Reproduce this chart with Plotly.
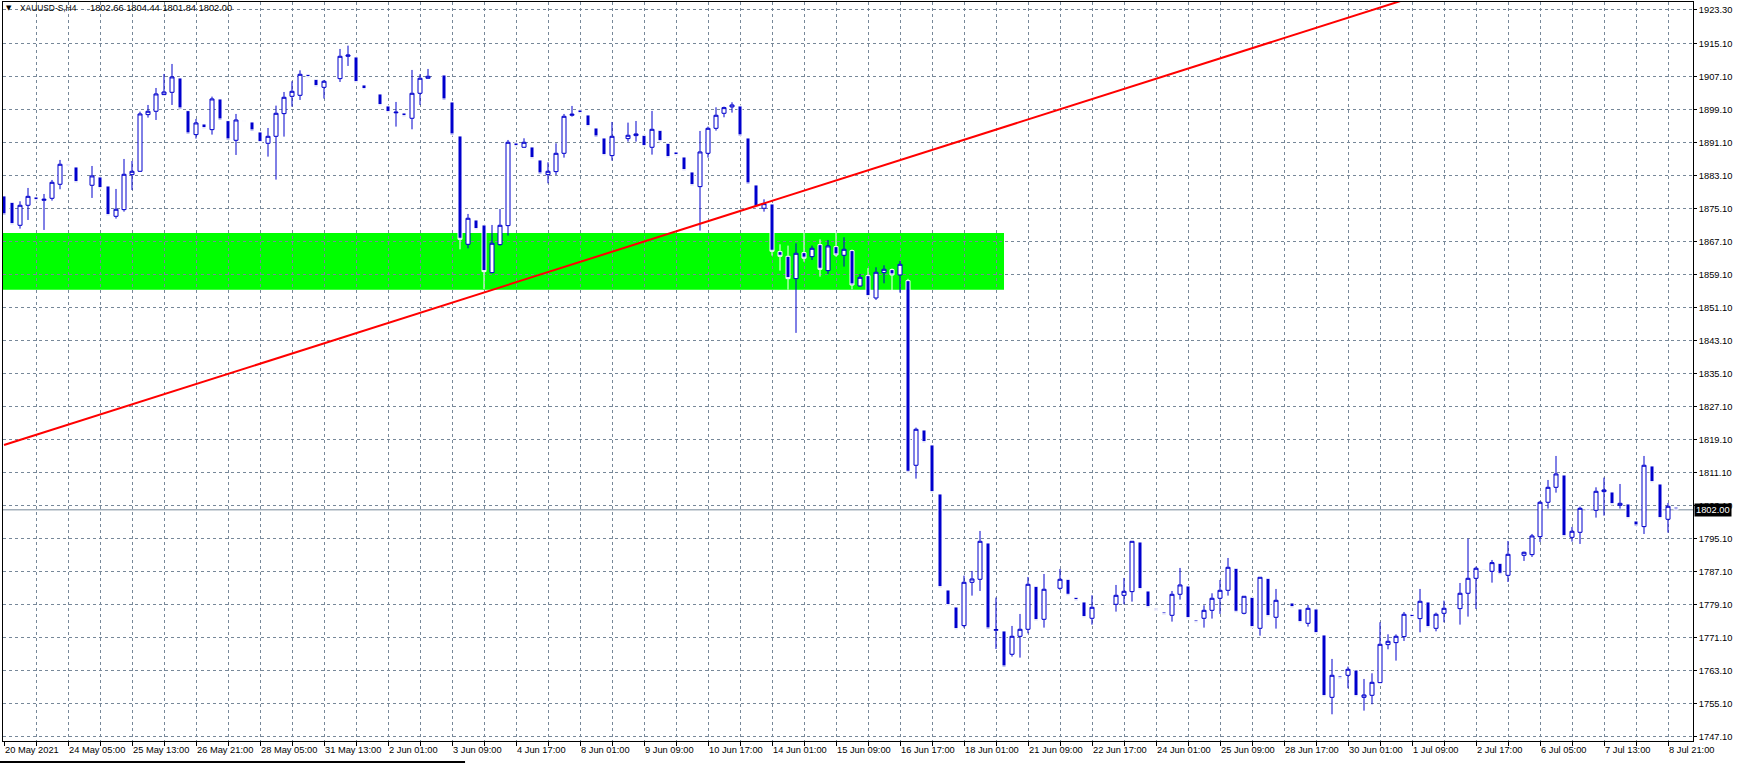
import plotly.graph_objects as go

# ---------------- data (XAUUSD-S, H4) ----------------
opens = [1878.1, 1876.55, 1870.98, 1875.83, 1877.85, 1877.04, 1877.52, 1880.92, 1885.77, 1885.12,
         1883.15, 1880.68, 1882.7, 1880.51, 1873.16, 1874.78, 1883.26, 1884.07, 1897.81, 1898.62,
         1902.66, 1903.22, 1906.7, 1898.78, 1892.96, 1895.54, 1894.17, 1901.61, 1896.35, 1891.58,
         1896.35, 1896.03, 1893.61, 1890.86, 1892.55, 1898.05, 1902.25, 1902.49, 1907.58, 1906.37,
         1904.43, 1906.02, 1906.53, 1911.95, 1911.79, 1905.0, 1903.3, 1902.82, 1899.91, 1898.25,
         1898.21, 1896.92, 1902.98, 1906.62, 1907.12, 1907.42, 1900.88, 1892.64, 1866.37, 1872.27,
         1871.06, 1859.5, 1866.29, 1870.9, 1890.94, 1889.89, 1889.97, 1886.82, 1883.26, 1883.99,
         1888.43, 1897.65, 1898.94, 1897.73, 1894.57, 1892.15, 1887.87, 1892.4, 1891.99, 1892.72,
         1892.8, 1889.89, 1894.01, 1890.86, 1888.76, 1887.54, 1883.91, 1880.35, 1888.43, 1894.49,
         1898.13, 1899.67, 1899.91, 1892.15, 1880.76, 1875.1, 1876.15, 1864.6, 1863.46, 1858.05,
         1864.35, 1863.38, 1866.29, 1859.99, 1865.81, 1863.71, 1864.84, 1856.27, 1858.78, 1853.36,
         1859.5, 1860.23, 1858.94, 1857.56, 1812.8, 1821.36, 1817.73, 1805.85, 1782.57, 1778.45,
         1773.93, 1784.43, 1785.16, 1793.97, 1772.8, 1772.64, 1766.98, 1771.34, 1773.04, 1783.46,
         1775.46, 1783.02, 1782.98, 1785.16, 1780.8, 1779.67, 1775.71, 1778.42, 1778.92, 1779.1,
         1781.28, 1782.17, 1794.21, 1782.33, 1778.13, 1777.24, 1776.43, 1781.52, 1783.54, 1775.3,
         1775.71, 1777.64, 1780.56, 1782.49, 1787.83, 1776.92, 1780.8, 1773.28, 1785.4, 1775.95,
         1779.85, 1779.42, 1777.97, 1774.49, 1777.97, 1771.67, 1756.55, 1761.73, 1761.89, 1763.18,
         1756.55, 1757.04, 1760.11, 1769.32, 1769.81, 1771.26, 1776.68, 1775.63, 1779.67, 1773.28,
         1776.92, 1778.42, 1778.05, 1781.77, 1785.4, 1787.6, 1787.1, 1789.04, 1786.13, 1791.02,
         1790.98, 1791.14, 1795.5, 1803.83, 1807.46, 1810.45, 1795.34, 1796.55, 1802.21, 1801.89,
         1806.41, 1806.33, 1803.1, 1803.42, 1799.3, 1797.93, 1812.64, 1808.27, 1799.71, 1802.66]

highs = [1878.6, 1876.8, 1876.8, 1880.03, 1878.1, 1878.57, 1881.97, 1886.82, 1886.0, 1885.4,
         1883.3, 1885.36, 1883.0, 1880.8, 1879.79, 1887.06, 1886.57, 1898.53, 1900.15, 1904.27,
         1907.67, 1910.09, 1907.0, 1899.0, 1896.76, 1895.8, 1902.17, 1901.9, 1896.6, 1897.97,
         1896.5, 1896.3, 1893.9, 1894.57, 1899.99, 1903.3, 1905.89, 1908.55, 1907.8, 1906.6,
         1906.21, 1906.3, 1913.73, 1914.53, 1912.1, 1905.3, 1903.5, 1903.1, 1900.2, 1900.88,
         1898.5, 1908.64, 1907.58, 1908.88, 1907.3, 1907.7, 1901.2, 1892.9, 1873.73, 1872.5,
         1871.3, 1871.06, 1874.94, 1891.67, 1891.2, 1892.07, 1890.2, 1887.1, 1886.25, 1890.86,
         1897.97, 1899.91, 1899.2, 1898.0, 1894.8, 1892.4, 1896.03, 1892.6, 1895.87, 1896.27,
         1893.1, 1898.7, 1894.3, 1891.1, 1889.0, 1887.8, 1884.2, 1893.85, 1894.9, 1899.58,
         1899.75, 1900.8, 1900.2, 1892.4, 1881.0, 1877.28, 1876.4, 1866.37, 1866.05, 1866.62,
         1869.5, 1866.05, 1867.58, 1867.42, 1869.5, 1868.07, 1865.1, 1859.18, 1860.6, 1860.8,
         1861.28, 1860.5, 1862.3, 1858.0, 1821.93, 1821.6, 1818.0, 1806.1, 1782.8, 1778.7,
         1786.05, 1787.18, 1796.88, 1794.2, 1780.72, 1772.9, 1773.85, 1776.76, 1785.73, 1783.7,
         1786.45, 1783.3, 1787.67, 1785.4, 1781.0, 1779.9, 1781.28, 1778.6, 1779.1, 1783.79,
         1785.48, 1794.45, 1794.4, 1782.6, 1778.4, 1777.5, 1782.33, 1787.91, 1783.8, 1775.5,
         1778.86, 1781.77, 1785.0, 1790.33, 1788.1, 1781.1, 1781.0, 1785.7, 1785.6, 1782.82,
         1780.0, 1779.6, 1778.2, 1778.94, 1778.2, 1771.9, 1765.85, 1762.0, 1763.99, 1763.4,
         1761.0, 1762.37, 1774.74, 1771.83, 1771.8, 1777.24, 1776.9, 1782.82, 1779.9, 1777.08,
         1779.99, 1778.6, 1784.27, 1795.02, 1788.23, 1787.8, 1789.85, 1789.3, 1794.45, 1791.2,
         1791.87, 1796.15, 1804.15, 1809.24, 1815.06, 1810.7, 1797.85, 1802.78, 1802.5, 1807.46,
         1809.81, 1806.6, 1808.27, 1803.7, 1799.6, 1815.06, 1812.9, 1808.5, 1803.67, 1804.44]

lows = [1873.1, 1870.9, 1870.17, 1872.27, 1876.7, 1869.85, 1876.96, 1879.71, 1885.1, 1881.0,
        1882.9, 1877.61, 1879.6, 1873.0, 1872.59, 1874.29, 1879.54, 1883.95, 1897.08, 1896.51,
        1902.6, 1900.15, 1898.9, 1892.8, 1891.99, 1894.1, 1892.96, 1896.2, 1891.4, 1888.03,
        1896.0, 1893.6, 1890.8, 1887.63, 1882.05, 1892.47, 1899.75, 1901.36, 1906.5, 1904.3,
        1901.69, 1905.8, 1905.73, 1909.61, 1905.3, 1903.6, 1903.0, 1899.7, 1898.0, 1894.9,
        1897.0, 1894.25, 1900.15, 1906.55, 1906.9, 1901.1, 1892.6, 1865.16, 1865.4, 1869.7,
        1855.54, 1859.34, 1866.05, 1868.47, 1889.8, 1889.8, 1886.9, 1883.2, 1881.16, 1883.18,
        1887.38, 1897.32, 1897.8, 1894.6, 1892.1, 1887.6, 1886.66, 1892.0, 1891.26, 1891.26,
        1889.8, 1888.11, 1891.0, 1887.1, 1887.6, 1884.0, 1880.3, 1869.69, 1887.38, 1893.93,
        1897.16, 1898.29, 1892.4, 1880.7, 1875.1, 1874.29, 1863.63, 1859.99, 1855.38, 1844.9,
        1862.17, 1862.57, 1858.53, 1859.18, 1863.38, 1860.96, 1855.46, 1856.11, 1853.4, 1852.88,
        1856.92, 1855.3, 1854.66, 1810.8, 1809.56, 1818.0, 1805.9, 1782.8, 1778.5, 1772.7,
        1773.44, 1781.2, 1782.33, 1772.8, 1768.27, 1763.6, 1766.41, 1766.17, 1772.07, 1774.9,
        1773.44, 1782.8, 1782.57, 1781.0, 1779.7, 1775.6, 1774.17, 1778.2, 1778.7, 1777.32,
        1779.1, 1779.75, 1782.4, 1778.0, 1777.3, 1776.3, 1774.9, 1780.23, 1775.4, 1774.4,
        1773.44, 1775.63, 1776.76, 1781.2, 1776.9, 1776.67, 1773.2, 1771.5, 1775.9, 1773.2,
        1779.6, 1778.0, 1774.4, 1773.69, 1771.7, 1756.5, 1752.43, 1760.8, 1758.74, 1756.5,
        1753.32, 1754.86, 1760.0, 1768.19, 1765.44, 1770.21, 1775.6, 1772.31, 1773.2, 1772.55,
        1774.74, 1778.2, 1774.17, 1776.11, 1777.97, 1787.2, 1784.35, 1786.1, 1784.51, 1790.8,
        1789.61, 1790.57, 1794.21, 1802.29, 1806.17, 1795.2, 1794.29, 1793.73, 1801.5, 1800.11,
        1800.6, 1803.0, 1802.29, 1799.6, 1797.8, 1796.15, 1808.3, 1799.6, 1796.47, 1801.84]

closes = [1873.5, 1871.14, 1875.83, 1878.0, 1876.96, 1877.28, 1881.4, 1885.77, 1885.36, 1881.32,
          1883.1, 1882.94, 1879.87, 1873.32, 1874.86, 1883.34, 1884.07, 1897.97, 1898.62, 1902.82,
          1903.3, 1906.94, 1899.18, 1893.12, 1895.79, 1894.41, 1901.61, 1896.51, 1891.67, 1896.51,
          1896.2, 1893.85, 1891.02, 1892.55, 1898.13, 1902.01, 1903.46, 1907.58, 1906.78, 1904.59,
          1905.89, 1906.0, 1911.95, 1912.27, 1905.56, 1903.87, 1903.15, 1899.99, 1898.29, 1898.4,
          1897.32, 1902.98, 1906.62, 1907.1, 1907.1, 1901.36, 1892.88, 1867.58, 1872.68, 1869.93,
          1859.75, 1866.62, 1870.98, 1891.1, 1890.05, 1891.1, 1887.14, 1883.42, 1884.07, 1888.43,
          1897.4, 1897.89, 1898.05, 1894.9, 1892.39, 1887.87, 1892.55, 1892.2, 1892.8, 1893.12,
          1890.05, 1894.25, 1891.26, 1887.38, 1887.87, 1884.23, 1880.59, 1888.76, 1894.49, 1897.65,
          1899.5, 1900.15, 1892.64, 1881.0, 1875.34, 1876.23, 1864.68, 1863.46, 1858.05, 1864.19,
          1863.0, 1865.4, 1860.31, 1865.97, 1863.79, 1865.16, 1856.51, 1858.37, 1853.69, 1859.58,
          1860.31, 1858.94, 1861.52, 1811.1, 1821.52, 1818.29, 1806.17, 1783.14, 1778.78, 1772.96,
          1784.43, 1785.24, 1794.37, 1773.12, 1772.96, 1763.91, 1771.34, 1773.04, 1783.95, 1775.14,
          1782.74, 1783.0, 1785.16, 1781.28, 1779.99, 1775.87, 1778.37, 1778.4, 1778.9, 1781.28,
          1782.25, 1794.37, 1782.66, 1778.29, 1777.56, 1776.59, 1781.52, 1783.79, 1775.63, 1774.66,
          1777.64, 1780.56, 1782.49, 1788.07, 1777.16, 1781.04, 1773.44, 1785.65, 1776.11, 1780.07,
          1779.75, 1778.29, 1774.66, 1778.13, 1771.99, 1756.72, 1761.89, 1761.08, 1763.34, 1756.72,
          1757.12, 1760.19, 1769.4, 1770.13, 1771.34, 1776.68, 1775.87, 1779.83, 1773.44, 1776.68,
          1778.13, 1778.4, 1781.77, 1785.4, 1787.83, 1787.4, 1789.2, 1786.37, 1791.22, 1791.0,
          1791.71, 1795.67, 1803.83, 1807.46, 1810.7, 1795.5, 1796.8, 1802.37, 1801.81, 1806.49,
          1806.82, 1803.26, 1803.58, 1799.87, 1798.09, 1812.8, 1808.6, 1799.87, 1802.86, 1802.0]

time_labels = ["20 May 2021", "24 May 05:00", "25 May 13:00", "26 May 21:00", "28 May 05:00",
               "31 May 13:00", "2 Jun 01:00", "3 Jun 09:00", "4 Jun 17:00", "8 Jun 01:00",
               "9 Jun 09:00", "10 Jun 17:00", "14 Jun 01:00", "15 Jun 09:00", "16 Jun 17:00",
               "18 Jun 01:00", "21 Jun 09:00", "22 Jun 17:00", "24 Jun 01:00", "25 Jun 09:00",
               "28 Jun 17:00", "30 Jun 01:00", "1 Jul 09:00", "2 Jul 17:00", "6 Jul 05:00",
               "7 Jul 13:00", "8 Jul 21:00"]
bars_per_label = 8

price_ticks = [1923.3, 1915.1, 1907.1, 1899.1, 1891.1, 1883.1, 1875.1, 1867.1, 1859.1, 1851.1,
               1843.1, 1835.1, 1827.1, 1819.1, 1811.1, 1803.1, 1795.1, 1787.1, 1779.1, 1771.1,
               1763.1, 1755.1, 1747.1]

zone_bars = [-0.2, 125.0]          # support rectangle
zone_prices = [1855.38, 1869.12]
trend_bars = [0, 200]              # red trend line
trend_prices = [1817.7, 1941.03]
bid_price = 1802.00
symbol_text = "XAUUSD-S,H4"
ohlc_text = "1802.66 1804.44 1801.84 1802.00"

# ---------------- styling ----------------
BLUE = "#0000CD"
GRID = "#778899"
FONT = "Liberation Sans"
FS = 9.3

n = min(len(opens), len(highs), len(lows), len(closes))
xs = list(range(n))

fig = go.Figure()
fig.add_trace(go.Candlestick(
    x=xs, open=opens[:n], high=highs[:n], low=lows[:n], close=closes[:n],
    increasing=dict(line=dict(color=BLUE, width=1), fillcolor="white"),
    decreasing=dict(line=dict(color="white", width=1), fillcolor=BLUE),
    whiskerwidth=0, hoverinfo="skip", showlegend=False))

x_range = [-0.125, 211.125]
y_range = [1745.96, 1925.11]

fig.update_layout(
    width=1741, height=763,
    margin=dict(l=3, r=48, t=2, b=22),
    paper_bgcolor="white", plot_bgcolor="white",
    showlegend=False, boxgap=0.5, boxgroupgap=0,
    font=dict(family=FONT, size=FS, color="black"),
    xaxis=dict(range=x_range, rangeslider=dict(visible=False),
               tickmode="array", tickvals=list(range(0, 212, 4)), showticklabels=False,
               ticks="outside", ticklen=4, tickcolor="black", tickwidth=1,
               showgrid=True, gridcolor=GRID, gridwidth=1, griddash="3px,3px",
               showline=True, linecolor="black", linewidth=1, mirror=True,
               zeroline=False, fixedrange=True),
    yaxis=dict(range=y_range, side="right",
               tickmode="array", tickvals=price_ticks,
               ticktext=[f"{v:.2f}" for v in price_ticks],
               ticks="outside", ticklen=3, tickcolor="black", tickwidth=1,
               tickfont=dict(family=FONT, size=FS, color="black"),
               showgrid=True, gridcolor=GRID, gridwidth=1, griddash="3px,3px",
               showline=True, linecolor="black", linewidth=1, mirror=True,
               zeroline=False, fixedrange=True),
)

shapes = [
    dict(type="rect", xref="x", yref="y", x0=zone_bars[0], x1=zone_bars[1],
         y0=zone_prices[0], y1=zone_prices[1], fillcolor="#00FF00",
         line=dict(width=0), layer="below"),
    dict(type="line", xref="paper", yref="y", x0=0, x1=1, y0=bid_price, y1=bid_price,
         line=dict(color=GRID, width=1), layer="below"),
    dict(type="line", xref="x", yref="y", x0=trend_bars[0], x1=trend_bars[1],
         y0=trend_prices[0], y1=trend_prices[1],
         line=dict(color="#FF0000", width=2), layer="above"),
    # window tab-strip edge at the very bottom of the screenshot
    dict(type="line", xref="paper", yref="paper", x0=-0.002, x1=0.2734, y0=-0.0284, y1=-0.0284,
         line=dict(color="black", width=2), layer="above"),
]
fig.update_layout(shapes=shapes)

annotations = []
for i, lab in enumerate(time_labels):
    annotations.append(dict(x=i * bars_per_label, xref="x", y=0, yref="paper",
                            text=lab, showarrow=False, xanchor="left", yanchor="top",
                            xshift=-1, yshift=-2,
                            font=dict(family=FONT, size=FS, color="black")))
annotations.append(dict(x=0, xref="paper", y=1, yref="paper", text="\u25BC",
                        showarrow=False, xanchor="left", yanchor="top", xshift=1, yshift=0,
                        font=dict(family="DejaVu Sans", size=7, color="black")))
annotations.append(dict(x=0, xref="paper", y=1, yref="paper", text=symbol_text,
                        showarrow=False, xanchor="left", yanchor="top", xshift=15, yshift=1,
                        font=dict(family=FONT, size=8.4, color="black")))
annotations.append(dict(x=0, xref="paper", y=1, yref="paper", text=ohlc_text,
                        showarrow=False, xanchor="left", yanchor="top", xshift=85, yshift=1,
                        font=dict(family=FONT, size=FS, color="black")))
annotations.append(dict(x=1, xref="paper", y=bid_price, yref="y", text="1802.00",
                        showarrow=False, xanchor="left", yanchor="middle", xshift=1,
                        bgcolor="black", borderpad=1,
                        font=dict(family=FONT, size=FS, color="white")))
fig.update_layout(annotations=annotations)

fig.write_html("out.html", config={"displayModeBar": False},
               post_script="document.body.style.margin='0px';document.body.style.overflow='hidden';")
